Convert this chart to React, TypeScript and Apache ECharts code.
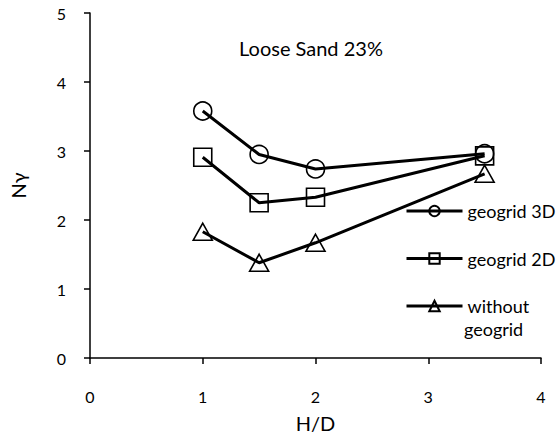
import React, { useEffect, useRef } from "react";
import * as echarts from "echarts";

const hd = [1, 1.5, 2, 3.5];
const geogrid3D = [3.58, 2.95, 2.74, 2.96];
const geogrid2D = [2.91, 2.25, 2.33, 2.93];
const withoutGeogrid = [1.83, 1.38, 1.67, 2.67];
const seriesNames = ["geogrid 3D", "geogrid 2D", "without geogrid"];
const seriesValues = [geogrid3D, geogrid2D, withoutGeogrid];
const seriesSymbols = ["circle", "rect", "triangle"];
const chartTitle = "Loose Sand 23%";
const xName = "H/D";
const yName = "Nγ";

const FONT = "Lato";

export default function App() {
  const ref = useRef<HTMLDivElement>(null);
  useEffect(() => {
    if (!ref.current) return;
    const chart = echarts.init(ref.current, undefined, { renderer: "svg" });
    const symbolSizes: any[] = [18, 18, [19, 17]];
    const series = seriesNames.map((name, i) => ({
      name,
      type: "line",
      data: hd.map((x, j) => [x, seriesValues[i][j]]),
      symbol: seriesSymbols[i],
      symbolSize: symbolSizes[i],
      showAllSymbol: true,
      lineStyle: { color: "#000", width: 3 },
      itemStyle: { color: "rgba(0,0,0,0)", borderColor: "#000", borderWidth: 1.6 },
      emphasis: { disabled: true },
      z: 2,
    }));
    chart.setOption({
      animation: false,
      backgroundColor: "#fff",
      textStyle: { fontFamily: FONT },
      title: {
        text: chartTitle,
        left: 234,
        top: 33,
        textStyle: { fontFamily: FONT, fontSize: 20, fontWeight: "normal", color: "#000" },
      },
      grid: { left: 88, right: 17, top: 13, bottom: 77, containLabel: false },
      legend: {
        orient: "vertical",
        left: 400,
        top: 197,
        itemWidth: 56,
        itemHeight: 13,
        itemGap: 29.5,
        selectedMode: false,
        lineStyle: { width: 3, color: "#000" },
        textStyle: { fontFamily: FONT, fontSize: 18, color: "#000" },
        formatter: (n: string) => (n === seriesNames[2] ? "without" : n),
      },
      graphic: [
        {
          type: "text",
          left: 464,
          top: 320,
          style: { text: "geogrid", fontFamily: FONT, fontSize: 18, fill: "#000" },
        },
      ],
      xAxis: {
        type: "value",
        min: 0,
        max: 4,
        interval: 1,
        name: xName,
        nameLocation: "middle",
        nameGap: 55,
        nameTextStyle: { fontFamily: FONT, fontSize: 20, color: "#000" },
        axisLine: { show: true, lineStyle: { color: "#000", width: 1.5 } },
        axisTick: { show: true, length: 6, lineStyle: { color: "#000", width: 1.5 } },
        axisLabel: { margin: 30, fontSize: 16, color: "#000", fontFamily: FONT },
        splitLine: { show: false },
      },
      yAxis: {
        type: "value",
        min: 0,
        max: 5,
        interval: 1,
        name: yName,
        nameLocation: "middle",
        nameGap: 62,
        nameTextStyle: { fontFamily: FONT, fontSize: 20, color: "#000" },
        axisLine: { show: true, lineStyle: { color: "#000", width: 1.5 } },
        axisTick: { show: true, length: 6, lineStyle: { color: "#000", width: 1.5 } },
        axisLabel: { margin: 24, fontSize: 16, color: "#000", fontFamily: FONT },
        splitLine: { show: false },
      },
      series,
    });
    return () => chart.dispose();
  }, []);
  return (
    <div
      ref={ref}
      style={{ position: "fixed", left: 0, top: 0, width: 558, height: 438, background: "#fff" }}
    />
  );
}
